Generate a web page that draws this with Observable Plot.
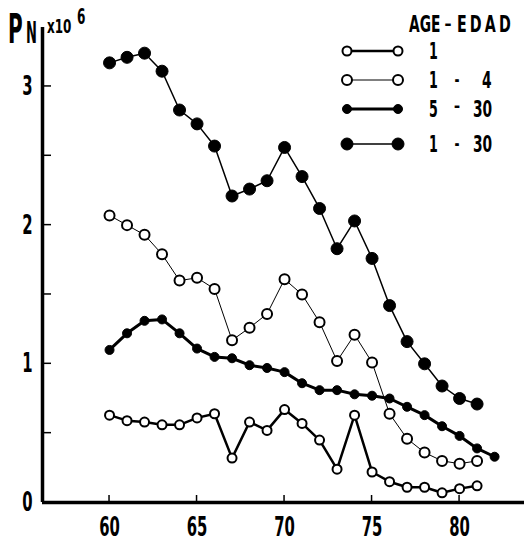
<!DOCTYPE html>
<html><head><meta charset="utf-8">
<script src="https://cdn.jsdelivr.net/npm/d3@7"></script>
<script src="https://cdn.jsdelivr.net/npm/@observablehq/plot@0.6"></script>
<style>body{margin:0;background:#fff;} #chart svg{display:block;}</style>
</head><body><div id="chart"></div>
<script>
// ---- data ----
const years = [60,61,62,63,64,65,66,67,68,69,70,71,72,73,74,75,76,77,78,79,80,81];
const years5to30 = [60,61,62,63,64,65,66,67,68,69,70,71,72,73,74,75,76,77,78,79,80,81,82];
const age1 = [0.63,0.59,0.58,0.56,0.56,0.61,0.64,0.32,0.58,0.52,0.67,0.57,0.45,0.24,0.63,0.22,0.15,0.11,0.11,0.07,0.10,0.12];
const age1to4 = [2.07,2.00,1.93,1.79,1.60,1.62,1.54,1.17,1.26,1.36,1.61,1.50,1.30,1.02,1.21,1.01,0.64,0.46,0.36,0.30,0.28,0.30];
const age5to30 = [1.10,1.22,1.31,1.32,1.22,1.11,1.05,1.04,0.99,0.97,0.94,0.86,0.81,0.81,0.78,0.77,0.75,0.69,0.63,0.55,0.48,0.39,0.33];
const age1to30 = [3.17,3.21,3.24,3.11,2.83,2.73,2.57,2.21,2.26,2.32,2.56,2.35,2.12,1.83,2.03,1.76,1.42,1.16,1.00,0.84,0.75,0.71];
const xTicks = [60,65,70,75,80];
const yTicks = [0,1,2,3];
const yTickMarks = [0.5,1,1.5,2,2.5,3];
const legendTitle = ["AGE", "–", "EDAD"];
const legendLabels = [["1"],["1","-","4"],["5","–","30"],["1","-","30"]];
const xDomain = [56.17, 83.71];
const yDomain = [0, 3.425];

const toRows = (xs, vs, s) => vs.map((v, i) => ({year: xs[i], value: v, series: s}));
const d1 = toRows(years, age1, "1");
const d14 = toRows(years, age1to4, "1 - 4");
const d530 = toRows(years5to30, age5to30, "5 - 30");
const d130 = toRows(years, age1to30, "1 - 30");

const font = "'DejaVu Sans', 'Liberation Sans', sans-serif";
const styles = {
  "1": {line: 2.5, r: 4.5, fill: "#fff", sw: 2},
  "1 - 4": {line: 1, r: 5, fill: "#fff", sw: 2},
  "5 - 30": {line: 3, r: 4.5, fill: "#000", sw: 1},
  "1 - 30": {line: 1.5, r: 6, fill: "#000", sw: 1}
};
const xy = {x: "year", y: "value"};

const plot = Plot.plot({
  width: 524, height: 541,
  marginLeft: 42, marginRight: 0, marginTop: 27, marginBottom: 39,
  style: {background: "#fff", color: "#000", fontFamily: font},
  x: {domain: xDomain},
  y: {domain: yDomain},
  marks: [
    Plot.axisX({ticks: xTicks, tickFormat: "d", tickSize: 0, tickPadding: 14, fontSize: 27, fontWeight: "bold", label: null}),
    Plot.axisY({ticks: yTicks, tickFormat: "d", tickSize: 0, tickPadding: 10, fontSize: 27, fontWeight: "bold", label: null}),
    Plot.line(d530, {...xy, stroke: "#000", strokeWidth: styles["5 - 30"].line}),
    Plot.line(d130, {...xy, stroke: "#000", strokeWidth: styles["1 - 30"].line}),
    Plot.line(d14, {...xy, stroke: "#000", strokeWidth: styles["1 - 4"].line}),
    Plot.line(d1, {...xy, stroke: "#000", strokeWidth: styles["1"].line}),
    Plot.dot(d530, {...xy, r: styles["5 - 30"].r, fill: "#000", stroke: "#000", strokeWidth: 1}),
    Plot.dot(d130, {...xy, r: styles["1 - 30"].r, fill: "#000", stroke: "#000", strokeWidth: 1}),
    Plot.dot(d14, {...xy, r: styles["1 - 4"].r, fill: "#fff", stroke: "#000", strokeWidth: 2}),
    Plot.dot(d1, {...xy, r: styles["1"].r, fill: "#fff", stroke: "#000", strokeWidth: 2}),
    Plot.ruleY([yDomain[0]], {stroke: "#000", strokeWidth: 3.5}),
    Plot.ruleX([xDomain[0]], {stroke: "#000", strokeWidth: 3.5})
  ]
});
document.getElementById("chart").appendChild(plot);

// ---- condense text glyphs horizontally ----
function condense(el, s) {
  const t = el.getAttribute("transform");
  if (t) { el.setAttribute("transform", t + ` scale(${s},1)`); return; }
  const x = +(el.getAttribute("x") || 0), y = +(el.getAttribute("y") || 0);
  el.removeAttribute("x"); el.removeAttribute("y");
  el.setAttribute("transform", `translate(${x},${y}) scale(${s},1)`);
}
const svg = d3.select(plot);
svg.selectAll('g[aria-label="x-axis tick label"] text, g[aria-label="y-axis tick label"] text')
  .each(function() { condense(this, 0.55); });

const sx = plot.scale("x"), sy = plot.scale("y");
const x0 = sx.apply(xDomain[0]), y0 = sy.apply(yDomain[0]);
// inward ticks
const tg = svg.append("g").attr("stroke", "#000");
xTicks.forEach(v => tg.append("line").attr("x1", sx.apply(v)).attr("x2", sx.apply(v))
  .attr("y1", y0).attr("y2", y0 - 7).attr("stroke-width", 1.5));
yTickMarks.forEach(v => tg.append("line").attr("x1", x0).attr("x2", x0 + 9)
  .attr("y1", sy.apply(v)).attr("y2", sy.apply(v)).attr("stroke-width", 1.5));

function ctext(g, str, x, y, size, s, anchor = "start") {
  return g.append("text").text(str).attr("font-size", size).attr("font-weight", "bold")
    .attr("font-family", font).attr("text-anchor", anchor).attr("fill", "#000")
    .attr("transform", `translate(${x},${y}) scale(${s},1)`);
}

// y-axis unit label  P_N x10^6
const ul = svg.append("g");
ctext(ul, "P", 8, 43, 40, 0.5);
ctext(ul, "N", 26, 43, 31, 0.42);
ctext(ul, "x10", 47, 33, 20, 0.6);
ctext(ul, "6", 77, 24, 22, 0.55);

// legend
const lg = svg.append("g");
ctext(lg, legendTitle[0], 409, 32, 23, 0.6);
ctext(lg, legendTitle[1], 448, 30, 20, 0.7, "middle");
ctext(lg, legendTitle[2], 457, 32, 23, 0.62).attr("letter-spacing", 5);
const names = ["1", "1 - 4", "5 - 30", "1 - 30"];
const rowY = [51, 80, 109, 144];
names.forEach((n, i) => {
  const st = styles[n], y = rowY[i];
  lg.append("line").attr("x1", 347).attr("x2", 398).attr("y1", y).attr("y2", y)
    .attr("stroke", "#000").attr("stroke-width", st.line);
  [347, 398].forEach(cx => lg.append("circle").attr("cx", cx).attr("cy", y).attr("r", st.r)
    .attr("fill", st.fill).attr("stroke", "#000").attr("stroke-width", st.sw));
  const parts = legendLabels[i];
  ctext(lg, parts[0], 429, y + 8, 23, 0.55);
  if (parts.length > 1) {
    ctext(lg, parts[1], 457, y + (parts[1] === "–" ? 3 : 6), 20, 0.6, "middle");
    ctext(lg, parts[2], parts[2].length > 1 ? 473 : 482, y + 8, 23, 0.6);
  }
});
</script>
</body></html>
